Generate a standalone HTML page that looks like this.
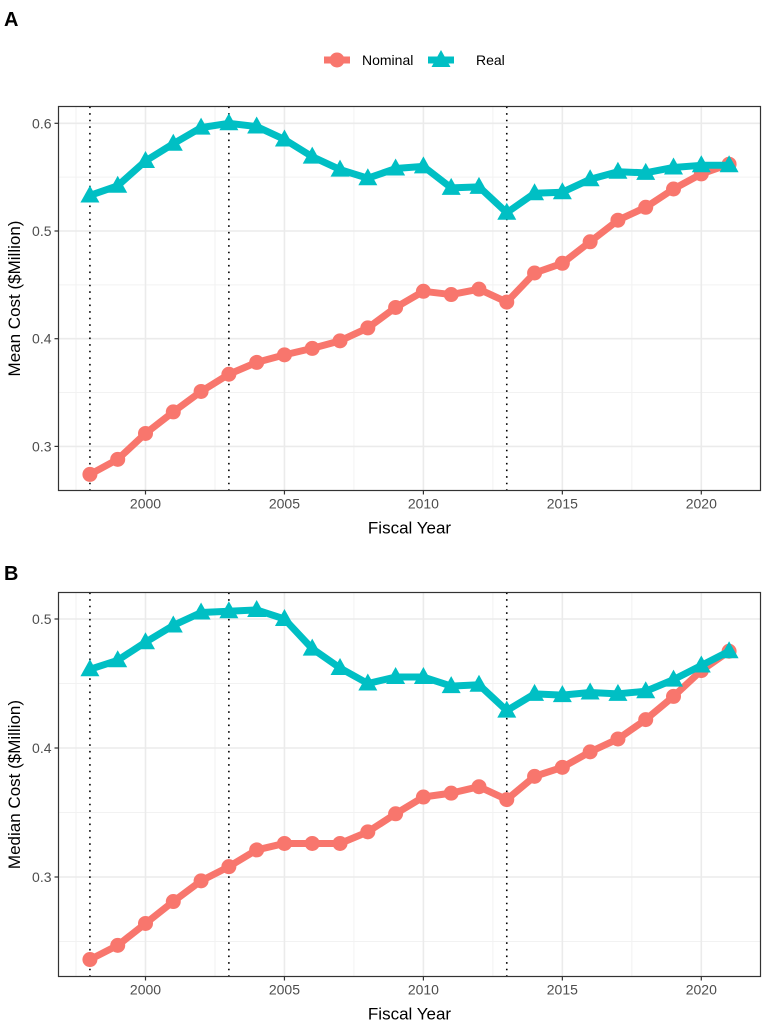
<!DOCTYPE html>
<html><head><meta charset="utf-8"><style>
body{margin:0;background:#fff;}
svg{display:block;font-family:"Liberation Sans",Arial,sans-serif;}
</style></head><body>
<svg id="chart" width="762" height="1023"></svg>
<script>
const years=[1998,1999,2000,2001,2002,2003,2004,2005,2006,2007,2008,2009,2010,2011,2012,2013,2014,2015,2016,2017,2018,2019,2020,2021];
const meanNominal=[.274,.288,.312,.332,.351,.367,.378,.385,.391,.398,.410,.429,.444,.441,.446,.434,.461,.470,.490,.510,.522,.539,.553,.562];
const meanReal=[.533,.542,.565,.581,.596,.600,.597,.585,.569,.557,.549,.558,.560,.540,.541,.517,.535,.536,.548,.555,.554,.559,.561,.561];
const medianNominal=[.236,.247,.264,.281,.297,.308,.321,.326,.326,.326,.335,.349,.362,.365,.370,.360,.378,.385,.397,.407,.422,.440,.460,.475];
const medianReal=[.461,.468,.482,.495,.505,.506,.507,.500,.477,.462,.450,.455,.455,.448,.449,.429,.442,.441,.443,.442,.444,.453,.464,.475];
const xTicks=[2000,2005,2010,2015,2020];
const vLines=[1998,2003,2013];
const meanTicks=[0.3,0.4,0.5,0.6];
const medianTicks=[0.3,0.4,0.5];
const NS="http://www.w3.org/2000/svg";
const svg=document.getElementById('chart');
function mk(t,a,p){const e=document.createElementNS(NS,t);for(const k in a)e.setAttribute(k,a[k]);(p||svg).appendChild(e);return e;}
const L=58.5,R=760.5;
const xs=y=>145.5+(y-2000)*27.79;
function panel(cfg){
  const g=mk('g',{});
  
  
  const ys=v=>cfg.y0+(cfg.v0-v)*cfg.k;
  mk('rect',{x:L,y:cfg.top,width:R-L,height:cfg.bot-cfg.top,fill:'#fff'},g);
  for(let x=1997.5;x<=2022;x+=5){const px=xs(x);if(px>L&&px<R)mk('line',{x1:px,x2:px,y1:cfg.top,y2:cfg.bot,stroke:'#f2f2f2','stroke-width':1},g);}
  for(const t of cfg.ticks){const m=ys(t-0.05);if(m>cfg.top&&m<cfg.bot)mk('line',{x1:L,x2:R,y1:m,y2:m,stroke:'#f2f2f2','stroke-width':1},g);}
  const mt=ys(cfg.ticks[cfg.ticks.length-1]+0.05);if(mt>cfg.top)mk('line',{x1:L,x2:R,y1:mt,y2:mt,stroke:'#f2f2f2','stroke-width':1},g);
  for(const t of xTicks){const l=mk('line',{x1:xs(t),x2:xs(t),y1:cfg.top,y2:cfg.bot,stroke:'#ebebeb','stroke-width':1.6},g);}
  for(const t of cfg.ticks){const l=mk('line',{x1:L,x2:R,y1:ys(t),y2:ys(t),stroke:'#ebebeb','stroke-width':1.6},g);}
  for(const v of vLines){const l=mk('line',{x1:xs(v),x2:xs(v),y1:cfg.top,y2:cfg.bot,stroke:'#000','stroke-width':1.6,'stroke-dasharray':'1.6 5'},g);}
  const series=[[cfg.nom,'#F8766D','circle','nominal'],[cfg.real,'#00BFC4','tri','real']];
  for(const [d,c,s,n] of series){
    const pl=mk('polyline',{points:years.map((y,i)=>xs(y)+','+ys(d[i])).join(' '),fill:'none',stroke:c,'stroke-width':7,'stroke-linejoin':'round'},g);
    
    years.forEach((y,i)=>{const px=xs(y),py=ys(d[i]);let e;
      if(s==='circle')e=mk('circle',{cx:px,cy:py,r:7.5,fill:c},g);
      else e=mk('polygon',{points:`${px},${py-10} ${px-9.5},${py+7} ${px+9.5},${py+7}`,fill:c},g);
      });
  }
  mk('rect',{x:L,y:cfg.top,width:R-L,height:cfg.bot-cfg.top,fill:'none',stroke:'#333','stroke-width':1.2},g);
  for(const t of xTicks){mk('line',{x1:xs(t),x2:xs(t),y1:cfg.bot,y2:cfg.bot+4,stroke:'#333','stroke-width':1.2},g);
    const tx=mk('text',{x:xs(t),y:cfg.bot+18,'text-anchor':'middle','font-size':14,fill:'#4d4d4d'},g);tx.textContent=t;
    }
  for(const t of cfg.ticks){mk('line',{x1:L-4,x2:L,y1:ys(t),y2:ys(t),stroke:'#333','stroke-width':1.2},g);
    const tx=mk('text',{x:L-7,y:ys(t)+5,'text-anchor':'end','font-size':14,fill:'#4d4d4d'},g);tx.textContent=t.toFixed(1);
    }
  const xt=mk('text',{x:(L+R)/2,y:cfg.bot+43,'text-anchor':'middle','font-size':17,fill:'#000'},g);xt.textContent='Fiscal Year';
  
  const cy=(cfg.top+cfg.bot)/2;
  const yt=mk('text',{x:20,y:cy,'text-anchor':'middle','font-size':17,fill:'#000',transform:`rotate(-90 20 ${cy})`},g);yt.textContent=cfg.ytitle;
  
  const pt=mk('text',{x:4,y:cfg.labelY,'font-size':20,'font-weight':'bold',fill:'#000'},g);pt.textContent=cfg.label;
  
}
panel({name:'panel-a-mean',top:106.5,bot:490.5,y0:231,v0:0.5,k:1077,ticks:meanTicks,nom:meanNominal,real:meanReal,ytitle:'Mean Cost ($Million)',label:'A',labelY:26});
panel({name:'panel-b-median',top:592.5,bot:976.5,y0:619,v0:0.5,k:1290,ticks:medianTicks,nom:medianNominal,real:medianReal,ytitle:'Median Cost ($Million)',label:'B',labelY:580});
const lg=mk('g',{});


const e1=mk('g',{},lg);


mk('line',{x1:324,x2:350,y1:60,y2:60,stroke:'#F8766D','stroke-width':7},e1);
mk('circle',{cx:337,cy:60,r:7.5,fill:'#F8766D'},e1);
const t1=mk('text',{x:362,y:65,'font-size':14,fill:'#000'},e1);t1.textContent='Nominal';
const e2=mk('g',{},lg);


mk('line',{x1:428,x2:454,y1:60,y2:60,stroke:'#00BFC4','stroke-width':7},e2);
mk('polygon',{points:'441,50 431.5,67 450.5,67',fill:'#00BFC4'},e2);
const t2=mk('text',{x:476,y:65,'font-size':14,fill:'#000'},e2);t2.textContent='Real';
</script>
</body></html>
